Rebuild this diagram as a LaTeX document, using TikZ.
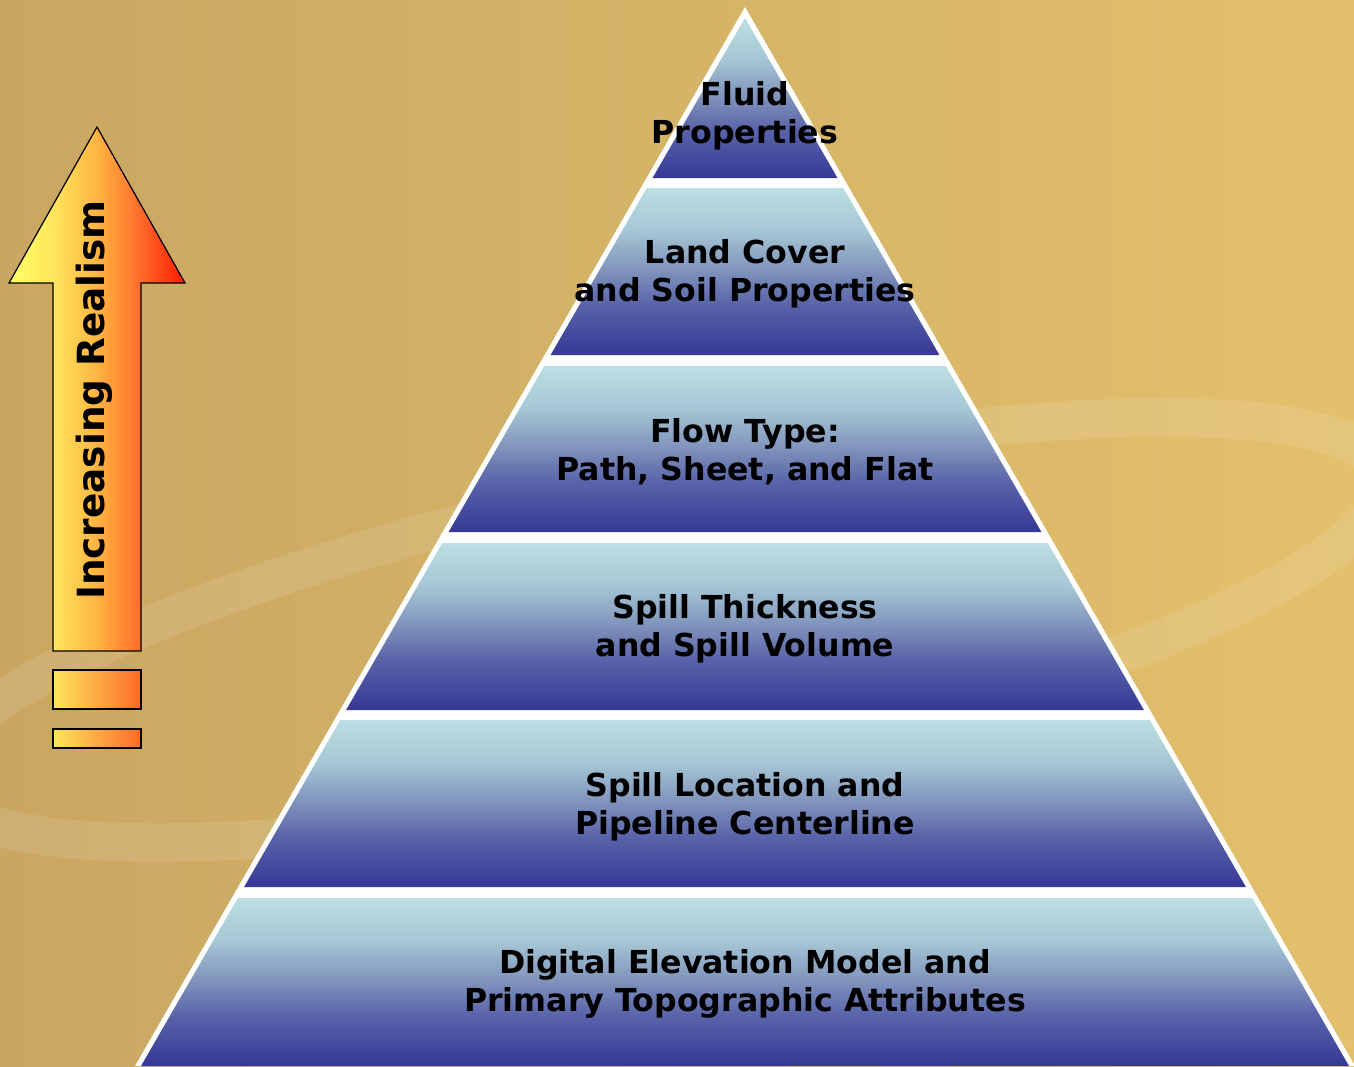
\documentclass[tikz,border=0pt]{standalone}
\usepackage{fontspec}
\setmainfont{DejaVu Sans}
\usepackage{tikz}
\usetikzlibrary{positioning}

\definecolor{bgleft}{HTML}{C9A762}
\definecolor{bgright}{HTML}{E2C06C}
\definecolor{bandtop}{HTML}{BBDFE3}
\definecolor{bandup}{HTML}{A5C6D4}
\definecolor{bandmid}{HTML}{7E91BB}
\definecolor{bandlow}{HTML}{5963A9}
\definecolor{bandbot}{HTML}{363896}
\definecolor{ayel}{HTML}{FFFF66}
\definecolor{ayel2}{HTML}{FFE65C}
\definecolor{aora}{HTML}{FFB442}
\definecolor{ared2}{HTML}{FF6A2A}
\definecolor{ared}{HTML}{FF1A00}

\pgfdeclareverticalshading{band}{100bp}{color(0bp)=(bandbot); color(25bp)=(bandbot);
  color(40bp)=(bandlow); color(50bp)=(bandmid); color(62bp)=(bandup);
  color(75bp)=(bandtop); color(100bp)=(bandtop)}
\pgfdeclarehorizontalshading{realism}{100bp}{color(0bp)=(ayel); color(25bp)=(ayel);
  color(37.5bp)=(ayel2); color(50bp)=(aora); color(62.5bp)=(ared2);
  color(75bp)=(ared); color(100bp)=(ared)}

\tikzset{
  tier/.style={shading=band,draw=none},
  tiertext/.style={align=center,text=black,font=\fontsize{18}{21.5}\selectfont\bfseries},
  barbox/.style={draw=black,line width=0.7pt,left color=ayel2,right color=ared2}
}

\begin{document}
\begin{tikzpicture}[x=0.02cm,y=-0.02cm]
	% background
	\useasboundingbox (0,0) rectangle (1354,1066);
	\shade[left color=bgleft,right color=bgright] (0,0) rectangle (1354,1066);
	\begin{scope}
		\clip (0,0) rectangle (1354,1066);
		\draw[white,opacity=0.1,line width=22pt] (660,630) ellipse [x radius=740,y radius=150,rotate=12];
	\end{scope}

	% pyramid
	\fill[white] (745,7) -- (135,1066) -- (1355,1066) -- cycle;
	\shade[tier] (745,18) -- (652.5,178) -- (837.5,178) -- cycle;
	\shade[tier] (646.7,188) -- (550.6,355) -- (939.4,355) -- (843.3,188) -- cycle;
	\shade[tier] (544.2,366) -- (448.6,532) -- (1041.4,532) -- (945.8,366) -- cycle;
	\shade[tier] (442.3,543) -- (346.1,710) -- (1143.9,710) -- (1047.7,543) -- cycle;
	\shade[tier] (340.3,720) -- (244.1,887) -- (1245.9,887) -- (1149.7,720) -- cycle;
	\shade[tier] (237.8,898) -- (141,1066) -- (1349,1066) -- (1252.2,898) -- cycle;

	\node[tiertext] (fluid) at (745,116) {Fluid\\Properties};
	\node[tiertext] (land) at (745,274) {Land Cover\\and Soil Properties};
	\node[tiertext] (flow) at (745,452) {Flow Type:\\Path, Sheet, and Flat};
	\node[tiertext] (thick) at (745,629) {Spill Thickness\\and Spill Volume};
	\node[tiertext] (loc) at (745,807) {Spill Location and\\Pipeline Centerline};
	\node[tiertext] (dem) at (745,984) {Digital Elevation Model and\\Primary Topographic Attributes};

	% arrow
	\shade[shading=realism,draw=black,line width=0.7pt,line join=miter]
		(53,651) -- (53,283) -- (9,283) -- (97,127) -- (185,283) -- (141,283) -- (141,651) -- cycle;
	\shade[barbox] (53,670) rectangle (141,709);
	\shade[barbox] (53,729) rectangle (141,748);
	\node[rotate=90,text=black,font=\fontsize{21.3}{25}\selectfont\bfseries] (realism) at (94,400) {Increasing Realism};
\end{tikzpicture}
\end{document}
